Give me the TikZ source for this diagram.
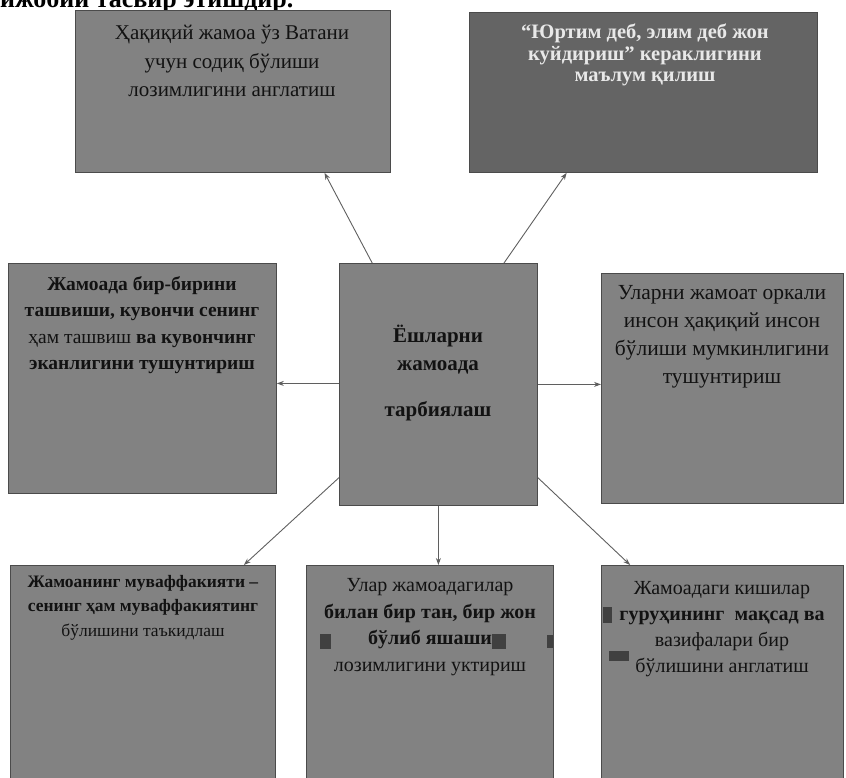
\documentclass[tikz,border=0pt]{standalone}
\usepackage{fontspec}
\setmainfont{Liberation Serif}
\usetikzlibrary{arrows.meta,calc}
\definecolor{boxgray}{RGB}{130,130,130}
\definecolor{boxdark}{RGB}{100,100,100}
\definecolor{boxline}{RGB}{75,75,75}
\definecolor{arrgray}{RGB}{95,95,95}
\definecolor{inkdark}{RGB}{18,18,18}
\definecolor{inklight}{RGB}{232,232,232}
\tikzset{
  panel/.style={draw=boxline, line width=0.8pt, fill=boxgray, anchor=north west, inner sep=0pt, minimum width=#1},
  paneldark/.style={panel=#1, fill=boxdark},
  txt/.style={anchor=north, align=center, inner sep=0pt, text=inkdark},
  conn/.style={draw=arrgray, line width=0.9pt, -{Stealth[length=7pt,width=5pt]}},
  blot/.style={fill=black!75}
}
\begin{document}
\begin{tikzpicture}[x=1pt,y=-1pt]
\useasboundingbox (0,0) rectangle (846,778);
\begin{scope}
\clip (0,0) rectangle (846,778);
% partial heading line cut at top
\node[anchor=base west, inner sep=0pt, font=\fontsize{26}{30}\selectfont\bfseries] (head) at (0,8) {ижобий тасвир этишдир.};
% boxes
\node[panel=315pt, minimum height=162pt] (tl) at (75,10) {};
\node[paneldark=348pt, minimum height=160pt] (tr) at (469,12) {};
\node[panel=268pt, minimum height=230pt] (lm) at (8,263) {};
\node[panel=198pt, minimum height=242pt] (c) at (339,263) {};
\node[panel=242pt, minimum height=230pt] (rm) at (601,273) {};
\node[panel=265pt, minimum height=225pt] (bl) at (10,565) {};
\node[panel=247pt, minimum height=225pt] (bm) at (306,565) {};
\node[panel=242pt, minimum height=225pt] (br) at (601,565) {};
% texts
\node[txt, font=\fontsize{21}{28.5}\selectfont] (tlt) at (232,25) {Ҳақиқий жамоа ўз Ватани\\учун содиқ бўлиши\\лозимлигини англатиш};
\node[txt, text=inklight, font=\fontsize{20.5}{21.5}\selectfont\bfseries] (trt) at (645,24) {“Юртим деб, элим деб жон\\куйдириш” кераклигини\\маълум қилиш};
\node[txt, font=\fontsize{19.5}{26.5}\selectfont] (lmt) at (142,276) {\textbf{Жамоада бир-бирини}\\\textbf{ташвиши, кувончи сенинг}\\ҳам ташвиш \textbf{ва кувончинг}\\\textbf{эканлигини тушунтириш}};
\node[txt, font=\fontsize{21}{28}\selectfont\bfseries] (ct) at (438,325) {Ёшларни\\жамоада\\[18pt]тарбиялаш};
\node[txt, font=\fontsize{21.5}{28}\selectfont] (rmt) at (722,285) {Уларни жамоат оркали\\инсон ҳақиқий инсон\\бўлиши мумкинлигини\\тушунтириш};
\node[txt, font=\fontsize{17.5}{24.5}\selectfont] (blt) at (143,575) {\textbf{Жамоанинг муваффакияти –}\\\textbf{сенинг ҳам муваффакиятинг}\\бўлишини таъкидлаш};
\node[txt, font=\fontsize{20}{26.7}\selectfont] (bmt) at (430,578) {Улар жамоадагилар\\\textbf{билан бир тан, бир жон}\\\textbf{бўлиб яшаши}\\лозимлигини уктириш};
\node[txt, font=\fontsize{20}{26.2}\selectfont] (brt) at (722,581) {Жамоадаги кишилар\\\textbf{гуруҳининг\ \ мақсад ва}\\вазифалари бир\\бўлишини англатиш};
% scan blots
\fill[blot] (320,634) rectangle (331,649);
\fill[blot] (492,634) rectangle (506,649);
\fill[blot] (547,635) rectangle (553,648);
\fill[blot] (603,607) rectangle (612,623);
\fill[blot] (609,651) rectangle (629,661);
% connector end points
\coordinate (cw) at ($(c.north west)!0.496!(c.south west)$);
\coordinate (ce) at ($(c.north east)!0.5!(c.south east)$);
% connectors
\draw[conn] ($(c.north west)!0.167!(c.north east)$) -- ($(tl.south west)!0.79!(tl.south east)$);
\draw[conn] ($(c.north west)!0.83!(c.north east)$) -- ($(tr.south west)!0.28!(tr.south east)$);
\draw[conn] (cw) -- (cw -| lm.east);
\draw[conn] (ce) -- (ce -| rm.west);
\draw[conn] ($(c.north west)!0.884!(c.south west)$) -- ($(bl.north west)!0.88!(bl.north east)$);
\draw[conn] (c.south) -- (c.south |- bm.north);
\draw[conn] ($(c.north east)!0.884!(c.south east)$) -- ($(br.north west)!0.12!(br.north east)$);
\end{scope}
\end{tikzpicture}
\end{document}
